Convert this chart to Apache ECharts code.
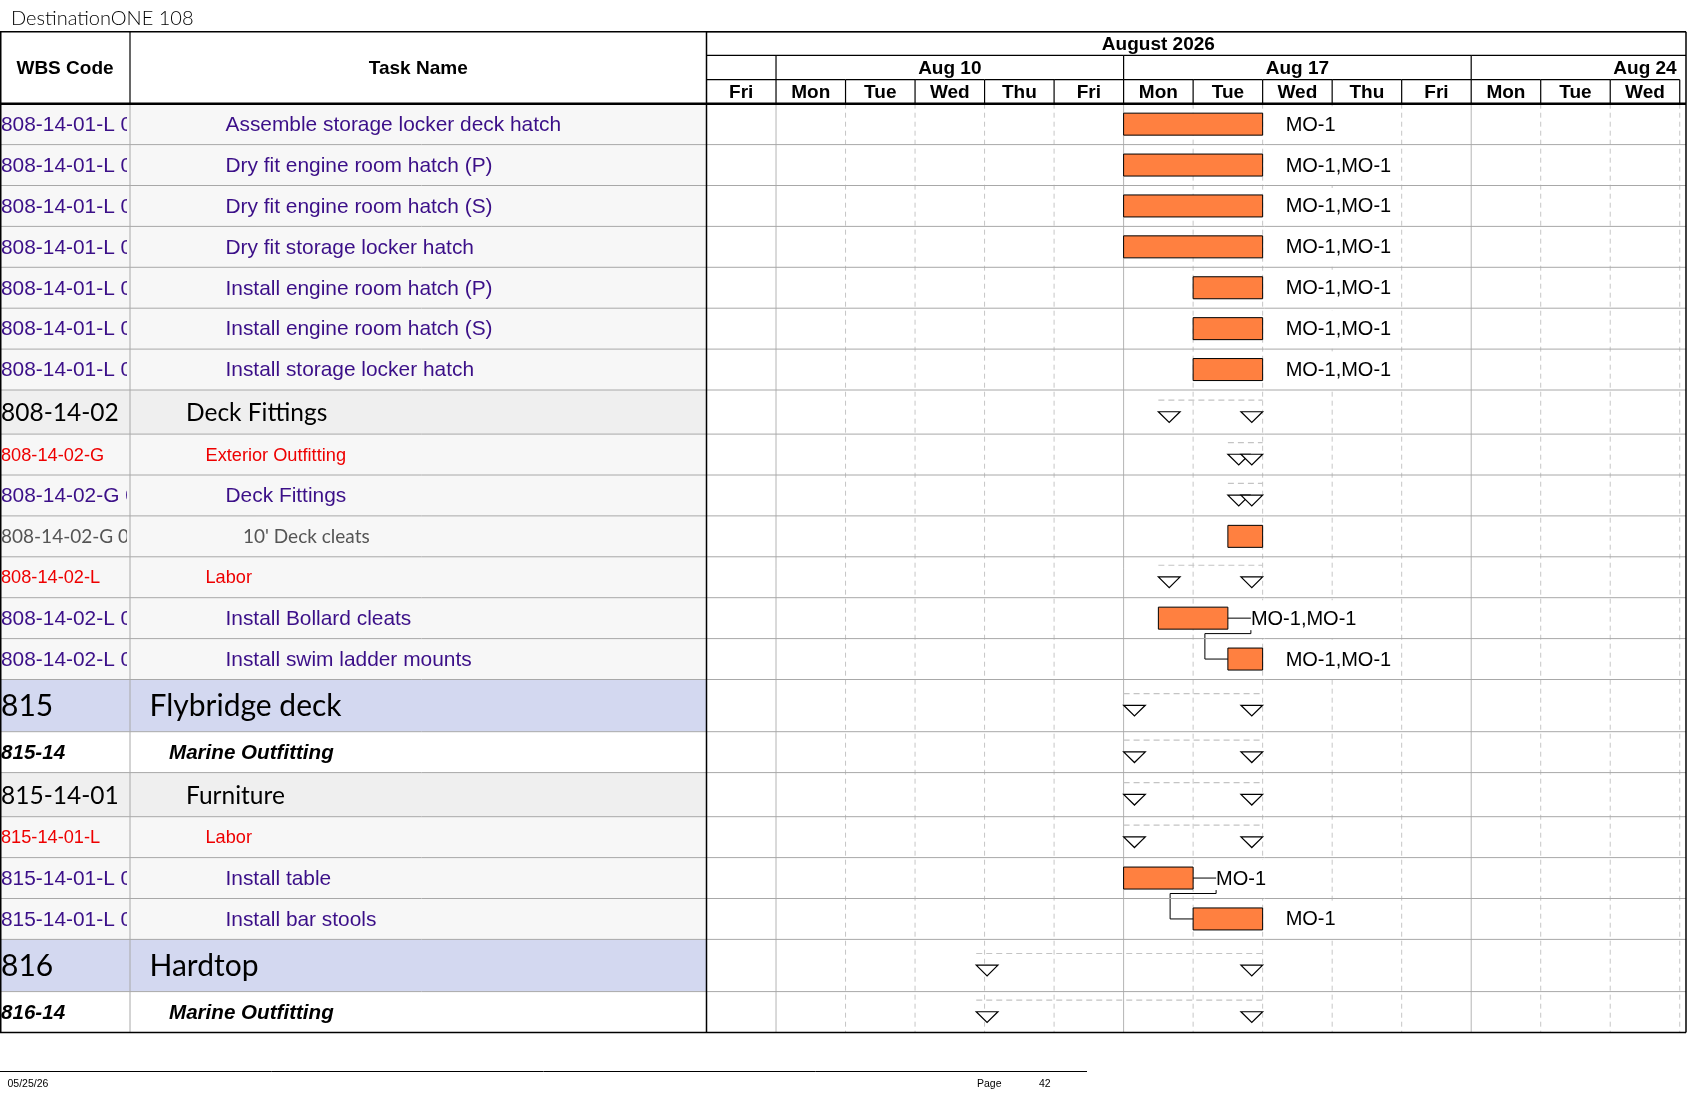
<!DOCTYPE html>
<html>
<head>
<meta charset="utf-8">
<title>DestinationONE 108</title>
<script src="https://cdn.jsdelivr.net/npm/echarts@6/dist/echarts.min.js"></script>
<style>
html, body { margin: 0; padding: 0; background: #fff; }
#main { width: 1687px; height: 1097px; }
</style>
</head>
<body>
<div id="main"></div>
<script>
// rows of the gantt table
var wbsCodes = ['808-14-01-L 01', '808-14-01-L 02', '808-14-01-L 03', '808-14-01-L 04', '808-14-01-L 05',
    '808-14-01-L 06', '808-14-01-L 07', '808-14-02', '808-14-02-G', '808-14-02-G 01', '808-14-02-G 01-01',
    '808-14-02-L', '808-14-02-L 01', '808-14-02-L 02', '815', '815-14', '815-14-01', '815-14-01-L',
    '815-14-01-L 01', '815-14-01-L 02', '816', '816-14'];
var taskNames = ['Assemble storage locker deck hatch', 'Dry fit engine room hatch (P)', 'Dry fit engine room hatch (S)',
    'Dry fit storage locker hatch', 'Install engine room hatch (P)', 'Install engine room hatch (S)',
    'Install storage locker hatch', 'Deck Fittings', 'Exterior Outfitting', 'Deck Fittings', "10' Deck cleats",
    'Labor', 'Install Bollard cleats', 'Install swim ladder mounts', 'Flybridge deck', 'Marine Outfitting',
    'Furniture', 'Labor', 'Install table', 'Install bar stools', 'Hardtop', 'Marine Outfitting'];
var rowLevels = ['task', 'task', 'task', 'task', 'task', 'task', 'task', 'L3', 'L4', 'task', 'item',
    'L4', 'task', 'task', 'L1', 'L2', 'L3', 'L4', 'task', 'task', 'L1', 'L2'];
// day index: 0 = Fri Aug 7, 1 = Mon Aug 10 ... (working days only)
var startDay = [6, 6, 6, 6, 7, 7, 7, 6.5, 7.5, 7.5, 7.5, 6.5, 6.5, 7.5, 6, 6, 6, 6, 6, 7, 3.88, 3.88];
var endDay   = [8, 8, 8, 8, 8, 8, 8, 8, 8, 8, 8, 8, 7.5, 8, 8, 8, 8, 8, 7, 8, 8, 8];
var markType = ['bar', 'bar', 'bar', 'bar', 'bar', 'bar', 'bar', 'summary', 'summary', 'summary', 'bar',
    'summary', 'bar', 'bar', 'summary', 'summary', 'summary', 'summary', 'bar', 'bar', 'summary', 'summary'];
var resourceLabels = ['MO-1', 'MO-1,MO-1', 'MO-1,MO-1', 'MO-1,MO-1', 'MO-1,MO-1', 'MO-1,MO-1', 'MO-1,MO-1',
    '', '', '', '', '', 'MO-1,MO-1', 'MO-1,MO-1', '', '', '', '', 'MO-1', 'MO-1', '', ''];
var links = [[12, 13], [18, 19]];

// timescale (month runs Mon Aug 3 .. Mon Aug 31 in working days)
var monthLabel = 'August 2026';
var monthSpan = [-4, 17];
var weekLabels = ['', 'Aug 10', 'Aug 17', 'Aug 24'];
var weekFirstDay = [-4, 1, 6, 11, 16];
var dayNames = ['Fri', 'Mon', 'Tue', 'Wed', 'Thu', 'Fri', 'Mon', 'Tue', 'Wed', 'Thu', 'Fri', 'Mon', 'Tue', 'Wed'];
var columnTitles = ['WBS Code', 'Task Name'];

// layout
var TOP = 31.7, LEFT_W = 706.5, RIGHT = 1686, WBS_W = 130;
var HEAD_H = 72, HEAD_BANDS = [0, 23.6, 48, 72];
var DAY_MAX = 14.09;
var ARIAL = 'Liberation Sans', CAL = 'Lato';
var levelStyle = {
    L1:   { h: 52.2, bg: '#d3d8f0', family: CAL, size: 30, weight: 'normal', fstyle: 'normal', color: '#000000', nameX: 149.5 },
    L2:   { h: 40.9, bg: '#ffffff', family: ARIAL, size: 20.6, weight: 'bold', fstyle: 'italic', color: '#000000', nameX: 169 },
    L3:   { h: 44.1, bg: '#efefef', family: CAL, size: 24.5, weight: 'normal', fstyle: 'normal', color: '#000000', nameX: 186 },
    L4:   { h: 40.9, bg: '#f7f7f7', family: ARIAL, size: 18.2, weight: 'normal', fstyle: 'normal', color: '#ee0000', nameX: 205.5 },
    task: { h: 40.9, bg: '#f7f7f7', family: ARIAL, size: 20.9, weight: 'normal', fstyle: 'normal', color: '#3b0f88', nameX: 225.5 },
    item: { h: 40.9, bg: '#f7f7f7', family: CAL, size: 19, weight: 'normal', fstyle: 'normal', color: '#555555', nameX: 243 }
};

var rowTop = [];
var yAcc = HEAD_H;
rowLevels.forEach(function (l) { rowTop.push(yAcc); yAcc += levelStyle[l].h; });
var TOTAL_H = yAcc;

// header cells for the timescale
var headerCells = [{ from: monthSpan[0], to: monthSpan[1], band: 0, text: monthLabel }];
weekLabels.forEach(function (w, k) {
    headerCells.push({ from: weekFirstDay[k], to: weekFirstDay[k + 1], band: 1, text: w });
});
dayNames.forEach(function (d, i) {
    headerCells.push({ from: i, to: i + 1, band: 2, text: d });
});
var dayLines = dayNames.map(function (d, i) { return [i]; }).slice(1).concat([[dayNames.length]]);

var chart = echarts.init(document.getElementById('main'));

function txt(s, x, y, st) {
    return {
        text: s, x: x, y: y, fill: st.color, fontFamily: st.family, fontSize: st.size,
        fontWeight: st.weight, fontStyle: st.fstyle, align: 'left', verticalAlign: 'middle'
    };
}

var option = {
    animation: false,
    title: {
        text: 'DestinationONE 108', left: 6, top: 4,
        textStyle: { fontFamily: 'Lato', fontWeight: 300, fontSize: 20, color: '#000' }
    },
    grid: [
        { left: 0, top: TOP, width: LEFT_W, height: TOTAL_H },
        { left: LEFT_W, top: TOP, width: RIGHT - LEFT_W, height: TOTAL_H }
    ],
    xAxis: [
        { gridIndex: 0, type: 'value', min: 0, max: LEFT_W, show: false },
        { gridIndex: 1, type: 'value', min: 0, max: DAY_MAX, show: false }
    ],
    yAxis: [
        { gridIndex: 0, type: 'value', min: 0, max: TOTAL_H, inverse: true, show: false },
        { gridIndex: 1, type: 'value', min: 0, max: TOTAL_H, inverse: true, show: false }
    ],
    series: [
        {
            // table rows: background, wbs code, task name
            type: 'custom', xAxisIndex: 0, yAxisIndex: 0, z: 1,
            data: wbsCodes.map(function (c, i) { return [i]; }),
            renderItem: function (params, api) {
                var i = api.value(0);
                var st = levelStyle[rowLevels[i]];
                var a = api.coord([0, rowTop[i]]);
                var b = api.coord([LEFT_W, rowTop[i] + st.h]);
                var cx = api.coord([WBS_W, 0])[0];
                var cy = (a[1] + b[1]) / 2;
                return {
                    type: 'group', children: [
                        { type: 'rect', shape: { x: a[0], y: a[1], width: b[0] - a[0], height: b[1] - a[1] }, style: { fill: st.bg } },
                        {
                            type: 'group',
                            clipPath: { type: 'rect', shape: { x: 0, y: a[1], width: cx - 3, height: b[1] - a[1] } },
                            children: [{ type: 'text', style: txt(wbsCodes[i], 1, cy + 1, st) }]
                        },
                        { type: 'text', style: txt(taskNames[i], api.coord([st.nameX, 0])[0], cy + 1, st) },
                        { type: 'line', shape: { x1: cx, y1: a[1], x2: cx, y2: b[1] }, style: { stroke: '#a8a8a8', lineWidth: 1 } }
                    ]
                };
            }
        },
        {
            // table column titles
            type: 'custom', xAxisIndex: 0, yAxisIndex: 0, z: 1,
            data: columnTitles.map(function (c, k) { return [k]; }),
            renderItem: function (params, api) {
                var k = api.value(0);
                var x0 = k === 0 ? 0 : WBS_W, x1 = k === 0 ? WBS_W : LEFT_W;
                var a = api.coord([x0, 0]), b = api.coord([x1, HEAD_H]);
                var ch = [{
                    type: 'text', style: {
                        text: columnTitles[k], x: (a[0] + b[0]) / 2, y: (a[1] + b[1]) / 2 + 1,
                        align: 'center', verticalAlign: 'middle', fontFamily: ARIAL, fontWeight: 'bold', fontSize: 19, fill: '#000'
                    }
                }];
                if (k === 0) ch.push({ type: 'line', shape: { x1: b[0], y1: a[1], x2: b[0], y2: b[1] }, style: { stroke: '#000', lineWidth: 1.2 } });
                return { type: 'group', children: ch };
            }
        },
        {
            // day gridlines
            type: 'custom', xAxisIndex: 1, yAxisIndex: 1, z: 2,
            data: dayLines,
            renderItem: function (params, api) {
                var x = api.value(0);
                var a = api.coord([x, HEAD_H]), b = api.coord([x, TOTAL_H]);
                var solid = dayNames[x] === 'Mon';
                return {
                    type: 'line', shape: { x1: a[0], y1: a[1], x2: b[0], y2: b[1] },
                    style: { stroke: solid ? '#b4b4b4' : '#c6c6c6', lineWidth: 1, lineDash: solid ? null : [5, 4] }
                };
            }
        },
        {
            // timescale header
            type: 'custom', xAxisIndex: 1, yAxisIndex: 1, z: 2,
            data: headerCells.map(function (c, k) { return [c.from, c.to, k]; }),
            renderItem: function (params, api) {
                var c = headerCells[api.value(2)];
                var a = api.coord([c.from, HEAD_BANDS[c.band]]);
                var b = api.coord([c.to, HEAD_BANDS[c.band + 1]]);
                var l = Math.max(a[0], params.coordSys.x);
                var r = Math.min(b[0], params.coordSys.x + params.coordSys.width);
                var ch = [{ type: 'line', shape: { x1: l, y1: a[1], x2: r, y2: a[1] }, style: { stroke: '#000', lineWidth: 1.2 } }];
                if (c.to < DAY_MAX) ch.push({ type: 'line', shape: { x1: b[0], y1: a[1], x2: b[0], y2: b[1] }, style: { stroke: '#000', lineWidth: 1.2 } });
                ch.push({
                    type: 'group',
                    clipPath: { type: 'rect', shape: { x: l, y: a[1], width: r - l, height: b[1] - a[1] } },
                    children: [{
                        type: 'text', style: {
                            text: c.text, x: (a[0] + b[0]) / 2, y: (a[1] + b[1]) / 2 + 1,
                            align: 'center', verticalAlign: 'middle',
                            fontFamily: ARIAL, fontWeight: 'bold', fontSize: 19, fill: '#000'
                        }
                    }]
                });
                return { type: 'group', children: ch };
            }
        },
        {
            // task bars and summary markers
            type: 'custom', xAxisIndex: 1, yAxisIndex: 1, z: 3,
            data: wbsCodes.map(function (c, i) { return [startDay[i], endDay[i], i]; }),
            renderItem: function (params, api) {
                var i = api.value(2);
                var h = levelStyle[rowLevels[i]].h;
                var s = api.coord([api.value(0), rowTop[i]]);
                var e = api.coord([api.value(1), rowTop[i] + h]);
                var cy = (s[1] + e[1]) / 2;
                if (markType[i] === 'bar') {
                    var ch = [{
                        type: 'rect', shape: { x: s[0], y: cy - 11, width: e[0] - s[0], height: 22 },
                        style: { fill: '#ff8040', stroke: '#000', lineWidth: 1 }
                    }];
                    if (resourceLabels[i]) ch.push({
                        type: 'text', style: {
                            text: resourceLabels[i], x: e[0] + 22, y: cy + 1, align: 'left', verticalAlign: 'middle',
                            fontFamily: ARIAL, fontSize: 20, fill: '#000', backgroundColor: '#fff', padding: [9, 1, 9, 1]
                        }
                    });
                    return { type: 'group', children: ch };
                }
                var tw = 21.7, th = 10.7, ty = cy - 0.3;
                return {
                    type: 'group', children: [
                        { type: 'line', shape: { x1: s[0], y1: cy - 12, x2: e[0], y2: cy - 12 }, style: { stroke: '#c4c4c4', lineWidth: 1.2, lineDash: [6, 4] } },
                        { type: 'polygon', shape: { points: [[s[0], ty], [s[0] + tw, ty], [s[0] + tw / 2, ty + th]] }, style: { fill: '#fff', stroke: '#000', lineWidth: 1.2 } },
                        { type: 'polygon', shape: { points: [[e[0] - tw, ty], [e[0], ty], [e[0] - tw / 2, ty + th]] }, style: { fill: '#fff', stroke: '#000', lineWidth: 1.2 } }
                    ]
                };
            }
        },
        {
            // finish-to-start links
            type: 'custom', xAxisIndex: 1, yAxisIndex: 1, z: 4,
            data: links,
            renderItem: function (params, api) {
                var p = api.value(0), q = api.value(1);
                var hp = levelStyle[rowLevels[p]].h, hq = levelStyle[rowLevels[q]].h;
                var e = api.coord([endDay[p], rowTop[p] + hp / 2]);
                var bot = api.coord([0, rowTop[p] + hp])[1] - 5;
                var s = api.coord([startDay[q], rowTop[q] + hq / 2]);
                var st = { stroke: '#000', lineWidth: 1, fill: null };
                return {
                    type: 'group', children: [
                        { type: 'polyline', shape: { points: [[e[0], e[1]], [e[0] + 23, e[1]]] }, style: st },
                        { type: 'polyline', shape: { points: [[e[0] + 23, e[1] + 12], [e[0] + 23, bot], [s[0] - 23, bot], [s[0] - 23, s[1]], [s[0], s[1]]] }, style: st }
                    ]
                };
            }
        },
        {
            // row separators across table and chart
            type: 'custom', xAxisIndex: 0, yAxisIndex: 0, z: 5,
            data: wbsCodes.slice(0, -1).map(function (c, i) { return [i]; }),
            renderItem: function (params, api) {
                var i = api.value(0);
                var y = api.coord([0, rowTop[i] + levelStyle[rowLevels[i]].h])[1];
                return { type: 'line', shape: { x1: 0, y1: y, x2: RIGHT, y2: y }, style: { stroke: '#a8a8a8', lineWidth: 1 } };
            }
        }
    ],
    graphic: [
        { type: 'line', z: 10, shape: { x1: 0, y1: TOP, x2: RIGHT, y2: TOP }, style: { stroke: '#000', lineWidth: 1.5 } },
        { type: 'line', z: 10, shape: { x1: 0, y1: TOP + HEAD_H, x2: RIGHT, y2: TOP + HEAD_H }, style: { stroke: '#000', lineWidth: 2.5 } },
        { type: 'line', z: 10, shape: { x1: 0.75, y1: TOP, x2: 0.75, y2: TOP + TOTAL_H }, style: { stroke: '#000', lineWidth: 1.5 } },
        { type: 'line', z: 10, shape: { x1: RIGHT, y1: TOP, x2: RIGHT, y2: TOP + TOTAL_H }, style: { stroke: '#000', lineWidth: 1.5 } },
        { type: 'line', z: 10, shape: { x1: LEFT_W, y1: TOP, x2: LEFT_W, y2: TOP + TOTAL_H }, style: { stroke: '#000', lineWidth: 1.5 } },
        { type: 'line', z: 10, shape: { x1: 0, y1: TOP + TOTAL_H, x2: RIGHT, y2: TOP + TOTAL_H }, style: { stroke: '#000', lineWidth: 1.5 } },
        { type: 'line', z: 10, shape: { x1: 0, y1: 1071.5, x2: 1087, y2: 1071.5 }, style: { stroke: '#000', lineWidth: 1 } },
        { type: 'text', z: 10, style: { text: '05/25/26', x: 7.5, y: 1084, verticalAlign: 'middle', fontFamily: ARIAL, fontSize: 10.5, fill: '#000' } },
        { type: 'text', z: 10, style: { text: 'Page', x: 977, y: 1084, verticalAlign: 'middle', fontFamily: ARIAL, fontSize: 10.5, fill: '#000' } },
        { type: 'text', z: 10, style: { text: '42', x: 1039, y: 1084, verticalAlign: 'middle', fontFamily: ARIAL, fontSize: 10.5, fill: '#000' } }
    ]
};
chart.setOption(option);
</script>
</body>
</html>
